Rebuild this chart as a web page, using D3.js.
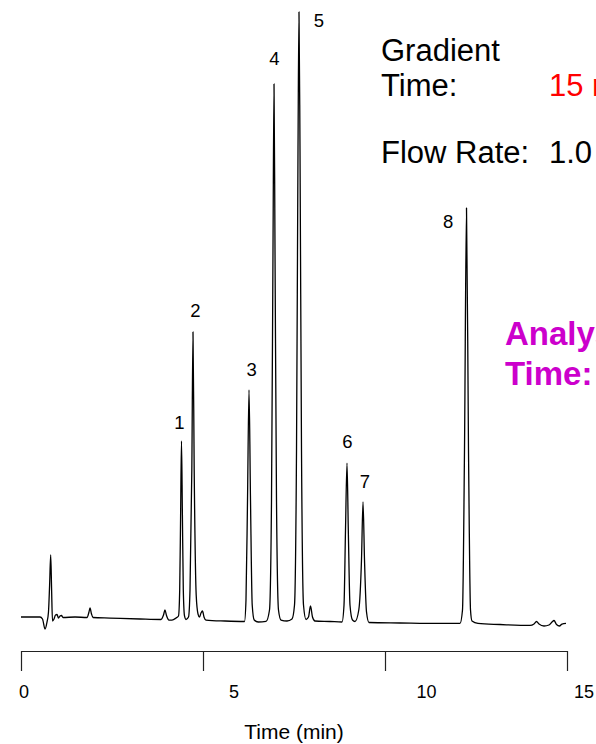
<!DOCTYPE html>
<html>
<head>
<meta charset="utf-8">
<script src="https://cdn.jsdelivr.net/npm/d3@7/dist/d3.min.js"></script>
<style>
  html, body { margin: 0; padding: 0; background: #fff; }
  svg { display: block; }
  text { font-family: "Liberation Sans", Arial, Helvetica, sans-serif; }
</style>
</head>
<body>
<svg id="chart" width="596" height="744"></svg>
<script>
// Detector trace: [time (min), signal (% of largest peak)]
const trace = [
  [0.000, 0.00], [0.522, 0.00], [0.591, -0.33], [0.659, -1.98], [0.714, -0.83],
  [0.755, 0.83], [0.786, 5.29], [0.816, 10.25], [0.841, 4.46], [0.865, -0.66],
  [0.907, -0.33], [0.948, 0.33], [0.989, 0.41], [1.030, -0.17], [1.071, 0.17],
  [1.113, 0.25], [1.154, -0.08], [1.484, 0.00], [1.813, -0.08], [1.868, 0.83],
  [1.896, 1.49], [1.937, 0.50], [1.978, -0.08], [2.445, -0.17], [3.269, -0.33],
  [3.846, -0.41], [3.915, 0.33], [3.956, 1.16], [3.997, 0.25], [4.066, -0.50],
  [4.148, -0.50], [4.258, -0.17],
  [4.327, 0.17], [4.360, 4.46], [4.385, 16.86], [4.409, 29.09], [4.434, 16.86],
  [4.459, 4.46], [4.492, 0.17], [4.533, -0.41],
  [4.602, 0.00], [4.643, 4.46], [4.693, 24.30], [4.725, 47.11], [4.758, 24.30],
  [4.813, 3.64], [4.863, 0.50], [4.904, 0.00], [4.945, 0.66], [4.986, 0.99],
  [5.027, 0.00], [5.082, -0.50], [5.604, -0.66], [6.140, -0.74],
  [6.181, 2.81], [6.223, 19.34], [6.264, 37.52], [6.305, 19.34], [6.352, 1.98],
  [6.407, -0.50], [6.516, -0.83], [6.731, -0.74],
  [6.827, 1.16], [6.882, 19.34], [6.923, 60.66], [6.951, 88.10], [6.978, 60.66],
  [7.019, 19.34], [7.074, 1.16], [7.143, -0.50], [7.308, -0.66], [7.445, -0.33],
  [7.514, 1.98], [7.569, 27.60], [7.610, 77.19], [7.637, 100.00], [7.665, 77.19],
  [7.706, 27.60], [7.761, 1.98], [7.830, -0.41], [7.898, 0.00], [7.953, 1.82],
  [8.008, 0.00], [8.077, -0.66], [8.489, -0.74], [8.819, -0.83],
  [8.874, 1.98], [8.915, 14.38], [8.956, 25.45], [8.992, 14.38], [9.038, 1.98],
  [9.107, -0.50], [9.176, -0.74],
  [9.280, 1.16], [9.354, 9.42], [9.396, 19.01], [9.437, 9.42], [9.492, 0.83],
  [9.560, -0.91], [10.412, -0.99], [11.511, -1.07], [12.060, -1.07],
  [12.129, 1.16], [12.184, 27.60], [12.239, 67.60], [12.294, 27.60], [12.349, 1.16],
  [12.390, -0.66], [12.555, -1.07], [13.159, -1.24], [13.984, -1.40], [14.093, -1.16],
  [14.162, -0.74], [14.231, -1.16], [14.368, -1.49], [14.505, -1.32], [14.588, -0.83],
  [14.643, -0.58], [14.712, -1.24], [14.794, -1.49], [14.863, -1.16], [14.973, -1.07]
];

// Numbered peaks
const peakLabels  = ["1", "2", "3", "4", "5", "6", "7", "8"];
const peakTimes   = [4.409, 4.725, 6.264, 6.951, 7.637, 8.956, 9.396, 12.239];
const peakHeights = [29.09, 47.11, 37.52, 88.10, 100.00, 25.45, 19.01, 67.60];

// Time axis
const timeTicks      = [0, 5, 10, 15];
const timeTickLabels = ["0", "5", "10", "15"];

// Method conditions
const conditionLabels = [["Gradient", "Time:"], ["Flow Rate:"]];
const conditionValues = ["15 min", "1.0 mL/min"];
const analysisLabel   = ["Analysis", "Time:"];

// ---- layout ----
const svg = d3.select("#chart");
const x = d3.scaleLinear().domain([0, 15]).range([21, 567]);
const y = d3.scaleLinear().domain([0, 100]).range([617, 12]);
const axisY = 651;

// peak-number placement relative to each apex (px: dx, baseline dy)
const peakLabelOffsets = [[-2, -12], [2.4, -15], [2.7, -14.3], [0.5, -19],
                          [20, 15.3], [0.3, -15], [2, -14.3], [-18.4, 20]];
// tick-label shift from its tick (px)
const tickLabelDx = [3, 31, 41.5, 17];

// chromatogram trace
const line = d3.line()
  .curve(d3.curveMonotoneX)
  .x(d => x(d[0]))
  .y(d => y(d[1]));

svg.append("path")
  .datum(trace)
  .attr("d", line)
  .attr("fill", "none")
  .attr("stroke", "#000")
  .attr("stroke-width", 1.3)
  .attr("stroke-linejoin", "round");

// peak numbers
svg.append("g")
  .selectAll("text")
  .data(peakLabels)
  .join("text")
  .attr("x", (d, i) => x(peakTimes[i]) + peakLabelOffsets[i][0])
  .attr("y", (d, i) => y(peakHeights[i]) + peakLabelOffsets[i][1])
  .attr("text-anchor", "middle")
  .attr("font-size", 18.5)
  .attr("fill", "#000")
  .text(d => d);

// time axis
const axis = d3.axisBottom(x)
  .tickValues(timeTicks)
  .tickSize(20)
  .tickSizeOuter(0)
  .tickFormat("");

const gAxis = svg.append("g")
  .attr("transform", `translate(0,${axisY})`)
  .call(axis);
gAxis.select(".domain").attr("stroke", "#222").attr("stroke-width", 1.2);
gAxis.selectAll(".tick line").attr("stroke", "#222").attr("stroke-width", 1.2);

svg.append("g")
  .selectAll("text")
  .data(timeTickLabels)
  .join("text")
  .attr("x", (d, i) => x(timeTicks[i]) + tickLabelDx[i])
  .attr("y", 698)
  .attr("text-anchor", "middle")
  .attr("font-size", 18)
  .attr("fill", "#000")
  .text(d => d);

svg.append("text")
  .attr("x", 294)
  .attr("y", 739)
  .attr("text-anchor", "middle")
  .attr("font-size", 21)
  .attr("fill", "#000")
  .text("Time (min)");

// method conditions
const cond = svg.append("g").attr("font-size", 31).attr("fill", "#000");
cond.append("text").attr("x", 381).attr("y", 61).text(conditionLabels[0][0]);
cond.append("text").attr("x", 381).attr("y", 96).text(conditionLabels[0][1]);
cond.append("text").attr("x", 549).attr("y", 96).attr("fill", "#ff0000").text(conditionValues[0]);
cond.append("text").attr("x", 381).attr("y", 163).text(conditionLabels[1][0]);
cond.append("text").attr("x", 549).attr("y", 163).text(conditionValues[1]);

const analysis = svg.append("g")
  .attr("font-size", 33)
  .attr("font-weight", "bold")
  .attr("fill", "#cc00cc");
analysis.append("text").attr("x", 505).attr("y", 345).text(analysisLabel[0]);
analysis.append("text").attr("x", 505).attr("y", 385).text(analysisLabel[1]);
</script>
</body>
</html>
